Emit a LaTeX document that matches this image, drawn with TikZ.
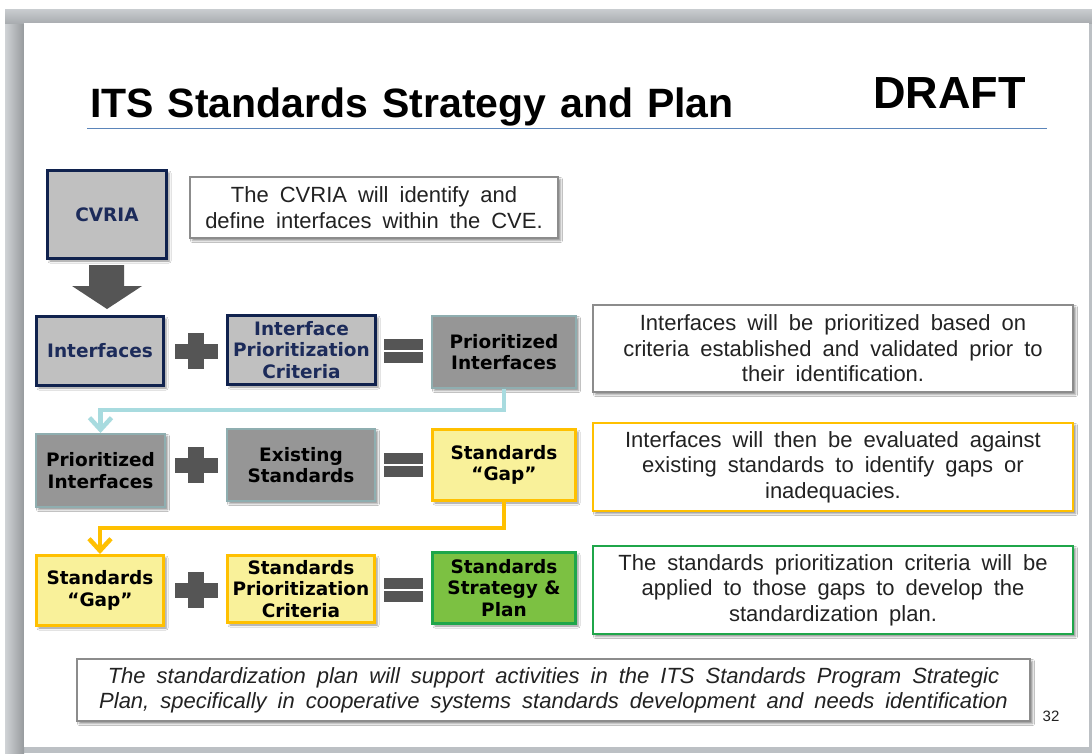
\documentclass[tikz,border=0pt]{standalone}
\usepackage{fontspec}
\setmainfont{Liberation Sans}
\newfontfamily\boxfont{DejaVu Sans}
\usetikzlibrary{arrows.meta,shadows.blur,calc}
\definecolor{navyB}{HTML}{10224E}
\definecolor{navyT}{HTML}{1C2B5A}
\definecolor{lgray}{HTML}{C0C0C0}
\definecolor{mgray}{HTML}{969696}
\definecolor{tealB}{HTML}{8FAEB0}
\definecolor{goldB}{HTML}{FFC000}
\definecolor{yelF}{HTML}{F9F19A}
\definecolor{grnB}{HTML}{1FA64A}
\definecolor{grnF}{HTML}{7CC142}
\definecolor{darkG}{HTML}{555555}
\definecolor{blueC}{HTML}{A8DBDF}
\definecolor{noteB}{HTML}{8C8C8C}
\definecolor{ulC}{HTML}{5B85BA}
\definecolor{frameG}{HTML}{BCC0C4}
\definecolor{txtG}{HTML}{222222}
\newcommand\widesp{\spaceskip=0.5em plus 0.1em\relax}
\newcommand\titlesp{\spaceskip=0.34em plus 0.1em\relax}
\tikzset{
  shd/.style={blur shadow={shadow xshift=2.5pt,shadow yshift=-2.5pt,shadow blur radius=2pt,shadow opacity=45}},
  lbl/.style={shd,font=\boxfont\bfseries\fontsize{18.5}{21.5}\selectfont,align=center,inner sep=0pt,anchor=center},
  navybox/.style={lbl,draw=navyB,line width=3pt,fill=lgray,text=navyT},
  graybox/.style={lbl,draw=tealB,line width=2pt,fill=mgray,text=black},
  yelbox/.style={lbl,draw=goldB,line width=3pt,fill=yelF,text=black},
  grnbox/.style={lbl,draw=grnB,line width=3pt,fill=grnF,text=black},
  note/.style={shd,font=\fontsize{22}{25.5}\selectfont,align=center,fill=white,draw=noteB,line width=1.2pt,inner sep=0pt,anchor=center,text=txtG},
  plussign/.pic={\fill[darkG] (-21.5,-7.5) rectangle (21.5,7.5); \fill[darkG] (-8,-18) rectangle (8,18);},
  eqsign/.pic={\fill[darkG] (-19.5,-12) rectangle (19.5,-1); \fill[darkG] (-19.5,1) rectangle (19.5,12);},
  conn/.style={line width=4.5pt,-{Straight Barb[length=12pt,width=22pt]}},
}
\begin{document}
\begin{tikzpicture}[x=1pt,y=-1pt]
\useasboundingbox (0,0) rectangle (1092,753);
% slide frame
\fill[white] (0,0) rectangle (1092,753);
\fill[frameG] (5,9) rectangle (1092,753);
\shade[left color=frameG!70!white,right color=frameG!80!black] (5,23) rectangle (24,753);
\shade[top color=frameG!80!white,bottom color=frameG!90!black] (5,9) rectangle (1092,23);
\fill[white] (24,23) rectangle (1089,747);
% title
\node[anchor=base west,inner sep=0pt,font=\bfseries\fontsize{41}{41}\selectfont] (title) at (90,117) {\titlesp ITS Standards Strategy and Plan};
\node[anchor=base west,inner sep=0pt,font=\bfseries\fontsize{45}{45}\selectfont] (draft) at (873,108) {DRAFT};
\coordinate (ulA) at (87,128.5);
\coordinate (ulB) at (1047,128.5);
\draw[ulC,line width=1.5pt] (ulA) -- (ulB);
% row 0
\node[navybox,minimum width=119pt,minimum height=88pt] (cvria) at (107,214.5) {CVRIA};
\node[note,minimum width=368pt,minimum height=61pt] (c1) at (374,207.5) {\widesp The CVRIA will identify and\\\widesp define interfaces within the CVE.};
\fill[darkG] ($(cvria.south)+(-18,5)$) -- ($(cvria.south)+(17,5)$) -- ($(cvria.south)+(17,26)$) -- ($(cvria.south)+(35,26)$) -- ($(cvria.south)+(0,49)$) -- ($(cvria.south)+(-35,26)$) -- ($(cvria.south)+(-18,26)$) -- cycle;
% row 1
\node[navybox,minimum width=127pt,minimum height=69pt] (ifc) at (100,351) {Interfaces};
\pic (plus1) at (196,351) {plussign};
\node[navybox,minimum width=148pt,minimum height=69pt] (ipc) at (301.5,350) {Interface\\Prioritization\\Criteria};
\pic (eq1) at (403.5,351) {eqsign};
\node[graybox,minimum width=144pt,minimum height=72pt] (pri1) at (504,352) {Prioritized\\Interfaces};
\node[note,minimum width=480pt,minimum height=87pt] (c2) at (833,348.5) {\widesp Interfaces will be prioritized based on\\\widesp criteria established and validated prior to\\\widesp their identification.};
% row 2
\node[graybox,minimum width=129pt,minimum height=73pt] (pri2) at (100.5,470.5) {Prioritized\\Interfaces};
\pic (plus2) at (196,465) {plussign};
\node[graybox,minimum width=148pt,minimum height=72pt] (exs) at (301,465) {Existing\\Standards};
\pic (eq2) at (403.5,465) {eqsign};
\node[yelbox,minimum width=143pt,minimum height=71pt] (gap1) at (504,465) {Standards\\“Gap”};
\node[note,draw=goldB,line width=1.5pt,minimum width=480pt,minimum height=88pt] (c3) at (833,467) {\widesp Interfaces will then be evaluated against\\\widesp existing standards to identify gaps or\\\widesp inadequacies.};
% row 3
\node[yelbox,minimum width=127pt,minimum height=70pt] (gap2) at (100,590.5) {Standards\\“Gap”};
\pic (plus3) at (196,590) {plussign};
\node[yelbox,minimum width=147pt,minimum height=67pt] (spc) at (301,589) {Standards\\Prioritization\\Criteria};
\pic (eq3) at (403.5,590) {eqsign};
\node[grnbox,minimum width=143pt,minimum height=71pt] (ssp) at (504,588) {Standards\\Strategy \&\\Plan};
\node[note,draw=grnB,line width=1.5pt,minimum width=480pt,minimum height=88pt] (c4) at (833,590) {\widesp The standards prioritization criteria will be\\\widesp applied to those gaps to develop the\\\widesp standardization plan.};
% connectors
\draw[conn,blueC] (pri1.south) -- ++(0,21) -| (pri2.north);
\draw[conn,goldB] (gap1.south) -- ++(0,26) -| (gap2.north);
% bottom note
\node[note,font=\itshape\fontsize{22}{25}\selectfont,minimum width=953pt,minimum height=62pt] (c5) at (553.5,690) {\widesp The standardization plan will support activities in the ITS Standards Program Strategic\\\widesp Plan, specifically in cooperative systems standards development and needs identification};
\node[inner sep=0pt,font=\fontsize{15}{15}\selectfont,text=txtG] (pnum) at (1051,716) {32};
\end{tikzpicture}
\end{document}
